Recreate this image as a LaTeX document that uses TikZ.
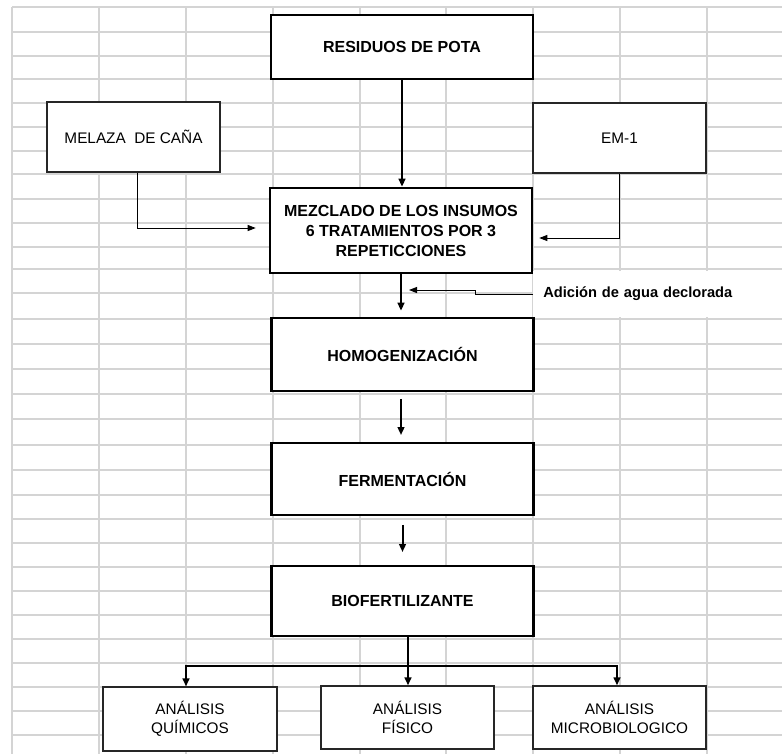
\documentclass[tikz,border=0pt]{standalone}
\usepackage{fontspec}
\setmainfont{Liberation Sans}
\usepackage{tikz}
\usetikzlibrary{arrows.meta}
\usetikzlibrary{calc}
\definecolor{gridgray}{RGB}{212,212,212}

\begin{document}
\begin{tikzpicture}[x=0.75pt, y=-0.75pt,
        grid_style/.style={draw=gridgray, line width=1pt},
        main_style/.style={rectangle,draw=black,line width=1.9pt,fill=white,minimum width=196.5pt,align=center,font=\bfseries\fontsize{12}{15}\selectfont},
        side_style/.style={rectangle,draw=black!85,line width=0.9pt,fill=white,minimum width=129.75pt,minimum height=47.25pt,align=center,font=\fontsize{11.5}{14.5}\selectfont},
        label_style/.style={anchor=west,fill=white,inner xsep=7.5pt,text width=172pt,minimum height=34.5pt,align=left,font=\bfseries\fontsize{11}{13}\selectfont},
        edge_style/.style={draw=black, line width=1.5pt,-{Triangle[length=6pt,width=5pt]}},
        thin_edge_style/.style={draw=black, line width=0.75pt,-{Triangle[length=6pt,width=4.5pt]}}]

        \useasboundingbox (0,0) rectangle (782,754);
        \foreach \gy in {7,32,56,79,103,127,151,174,199,223,247,269,293,319,344,369,394,419,445,470,495,519,543,567,591,615,639,663,687,711,735}
            \draw [grid_style] (12,\gy) -- (782,\gy);
        \foreach \gx in {12,99,186,273,360,446,533,620,707}
            \draw [grid_style] (\gx,7) -- (\gx,754);

        \node [label_style](agua) at (533,294) {Adición de agua declorada};

        \node [main_style, minimum height=48pt](res) at (402,47) {RESIDUOS DE POTA};
        \node [side_style, minimum height=52.5pt](mel) at (133.5,137) {MELAZA\ \ DE CAÑA};
        \node [side_style, minimum height=52.5pt](em) at (619.5,138) {EM-1};
        \node [main_style, minimum height=63.75pt](mez) at (401,230.5) {MEZCLADO DE LOS INSUMOS\\6 TRATAMIENTOS POR 3\\REPETICCIONES};
        \node [main_style, minimum height=54.75pt](hom) at (402.5,354.5) {HOMOGENIZACIÓN};
        \node [main_style, minimum height=54pt](fer) at (402.5,479) {FERMENTACIÓN};
        \node [main_style, minimum height=52.5pt](bio) at (402.5,601) {BIOFERTILIZANTE};
        \node [side_style, minimum width=130.5pt, minimum height=48pt](quim) at (190,719) {ANÁLISIS\\QUÍMICOS};
        \node [side_style](fis) at (407.5,717.5) {ANÁLISIS\\FÍSICO};
        \node [side_style](micro) at (619.5,717.5) {ANÁLISIS\\MICROBIOLOGICO};

        \coordinate (jog) at (475,290);
        \coordinate (split) at (408,666);

        \draw [edge_style] (res.south) -- (res.south |- mez.north);
        \draw [thin_edge_style] ($(mel.south)+(3.5,0)$) |- ($(mez.west)+(-13,-2.5)$);
        \draw [thin_edge_style] (em.south) |- ($(mez.east)+(6,7.5)$);
        \draw [edge_style, shorten >=4.5pt] (mez.south) -- (mez.south |- hom.north);
        \draw [thin_edge_style] (agua.west) -| (jog) -- ($(mez.south |- jog)+(8,0)$);
        \draw [edge_style, shorten <=5pt, shorten >=5pt] ($(hom.south)+(-1.5,0)$) -- ($(fer.north)+(-1.5,0)$);
        \draw [edge_style, shorten <=6.5pt, shorten >=9.5pt] (fer.south) -- (bio.north);
        \draw [edge_style] (bio.south -| split) -- (split |- fis.north);
        \draw [edge_style] (split) -| ($(quim.north)+(-4,0)$);
        \draw [edge_style] (split) -| ($(micro.north)+(-2.5,0)$);
\end{tikzpicture}
\end{document}
